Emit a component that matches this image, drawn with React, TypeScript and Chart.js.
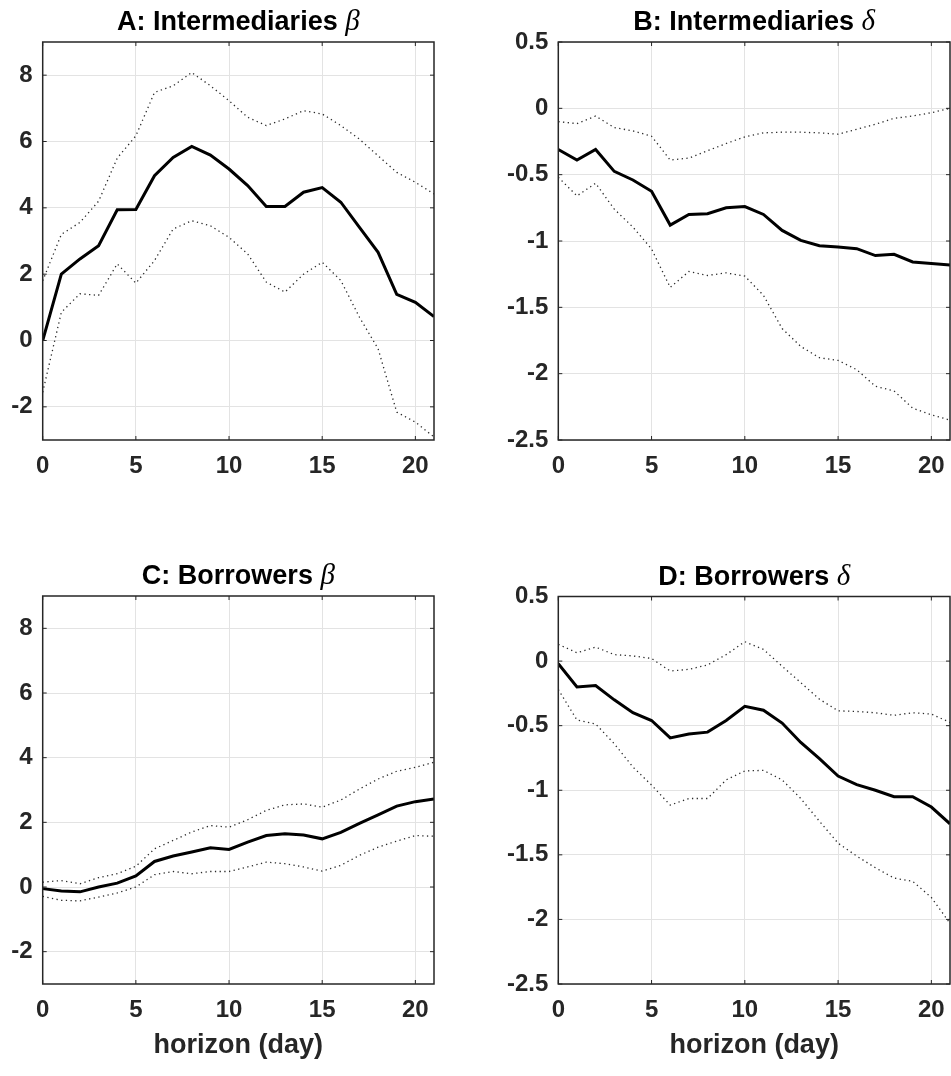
import React, { useEffect, useRef } from 'react';
import { Chart, registerables } from 'chart.js';

Chart.register(...registerables);

// ---------- data ----------
const horizon = [0, 1, 2, 3, 4, 5, 6, 7, 8, 9, 10, 11, 12, 13, 14, 15, 16, 17, 18, 19, 20, 21];
const xTickValues = [0, 5, 10, 15, 20];
const betaTickValues = [-2, 0, 2, 4, 6, 8];
const deltaTickValues = [-2.5, -2, -1.5, -1, -0.5, 0, 0.5];
const xAxisTitle = 'horizon (day)';

const interBetaMean = [0, 2.0, 2.46, 2.86, 3.94, 3.95, 4.97, 5.52, 5.85, 5.59, 5.17, 4.67, 4.04, 4.04, 4.47, 4.61, 4.17, 3.41, 2.66, 1.39, 1.15, 0.72];
const interBetaUpper = [1.8, 3.2, 3.56, 4.2, 5.5, 6.17, 7.48, 7.68, 8.08, 7.68, 7.23, 6.73, 6.48, 6.68, 6.93, 6.83, 6.48, 6.07, 5.57, 5.07, 4.77, 4.42];
const interBetaLower = [-1.56, 0.85, 1.41, 1.36, 2.31, 1.73, 2.41, 3.36, 3.61, 3.46, 3.11, 2.61, 1.76, 1.46, 2.0, 2.36, 1.81, 0.7, -0.25, -2.16, -2.46, -2.91];

const interDeltaMean = [-0.31, -0.39, -0.31, -0.475, -0.54, -0.625, -0.88, -0.8, -0.795, -0.75, -0.74, -0.8, -0.92, -0.995, -1.035, -1.045, -1.058, -1.11, -1.1, -1.158, -1.17, -1.18];
const interDeltaUpper = [-0.1, -0.115, -0.058, -0.145, -0.17, -0.21, -0.39, -0.375, -0.32, -0.265, -0.215, -0.185, -0.18, -0.18, -0.185, -0.195, -0.158, -0.12, -0.075, -0.058, -0.033, 0.0];
const interDeltaLower = [-0.52, -0.66, -0.565, -0.76, -0.895, -1.06, -1.35, -1.23, -1.26, -1.24, -1.265, -1.41, -1.66, -1.795, -1.88, -1.9, -1.97, -2.095, -2.13, -2.26, -2.31, -2.35];

const borrBetaMean = [-0.05, -0.12, -0.15, 0.0, 0.12, 0.34, 0.79, 0.96, 1.08, 1.21, 1.16, 1.39, 1.59, 1.645, 1.61, 1.49, 1.69, 1.97, 2.23, 2.5, 2.64, 2.72];
const borrBetaUpper = [0.15, 0.2, 0.1, 0.29, 0.41, 0.64, 1.18, 1.44, 1.7, 1.9, 1.85, 2.08, 2.37, 2.54, 2.57, 2.47, 2.69, 3.03, 3.34, 3.58, 3.7, 3.86];
const borrBetaLower = [-0.29, -0.41, -0.43, -0.31, -0.185, 0.0, 0.38, 0.48, 0.41, 0.48, 0.48, 0.62, 0.77, 0.72, 0.62, 0.49, 0.67, 0.98, 1.23, 1.42, 1.59, 1.57];

const borrDeltaMean = [-0.02, -0.2, -0.19, -0.3, -0.4, -0.46, -0.595, -0.565, -0.55, -0.46, -0.35, -0.38, -0.48, -0.63, -0.756, -0.89, -0.956, -1.0, -1.05, -1.05, -1.13, -1.26];
const borrDeltaUpper = [0.13, 0.064, 0.108, 0.05, 0.04, 0.02, -0.077, -0.064, -0.03, 0.05, 0.15, 0.09, -0.04, -0.167, -0.295, -0.385, -0.39, -0.4, -0.42, -0.4, -0.41, -0.475];
const borrDeltaLower = [-0.22, -0.456, -0.487, -0.64, -0.82, -0.96, -1.115, -1.064, -1.064, -0.92, -0.85, -0.846, -0.92, -1.064, -1.24, -1.41, -1.51, -1.6, -1.68, -1.705, -1.83, -2.03];

// ---------- panels ----------
type Area = { left: number; top: number; right: number; bottom: number };
type PanelDef = {
  title: string;
  greek: string;
  mean: number[];
  upper: number[];
  lower: number[];
  yMin: number;
  yMax: number;
  yTicks: number[];
  xTitle: boolean;
  box: { left: number; top: number; width: number; height: number };
  area: Area;
};

const panels: PanelDef[] = [
  {
    title: 'A: Intermediaries ', greek: 'β', mean: interBetaMean, upper: interBetaUpper, lower: interBetaLower,
    yMin: -3, yMax: 9, yTicks: betaTickValues, xTitle: false,
    box: { left: 0, top: 0, width: 470, height: 500 }, area: { left: 42.7, top: 42, right: 434, bottom: 440 },
  },
  {
    title: 'B: Intermediaries ', greek: 'δ', mean: interDeltaMean, upper: interDeltaUpper, lower: interDeltaLower,
    yMin: -2.5, yMax: 0.5, yTicks: deltaTickValues, xTitle: false,
    box: { left: 470, top: 0, width: 481, height: 500 }, area: { left: 88.3, top: 42, right: 480, bottom: 440 },
  },
  {
    title: 'C: Borrowers ', greek: 'β', mean: borrBetaMean, upper: borrBetaUpper, lower: borrBetaLower,
    yMin: -3, yMax: 9, yTicks: betaTickValues, xTitle: true,
    box: { left: 0, top: 540, width: 470, height: 536 }, area: { left: 42.7, top: 56, right: 434, bottom: 444 },
  },
  {
    title: 'D: Borrowers ', greek: 'δ', mean: borrDeltaMean, upper: borrDeltaUpper, lower: borrDeltaLower,
    yMin: -2.5, yMax: 0.5, yTicks: deltaTickValues, xTitle: true,
    box: { left: 470, top: 540, width: 481, height: 536 }, area: { left: 88.3, top: 56.5, right: 480, bottom: 444 },
  },
];

const AXIS_COLOR = '#262626';
const GRID_COLOR = '#e3e3e3';
const TICK_FONT = { family: '"Liberation Sans", Arial, sans-serif', size: 24, weight: 'bold' as const };
const LABEL_FONT = { family: '"Liberation Sans", Arial, sans-serif', size: 27, weight: 'bold' as const };

const toPts = (vals: number[]) => vals.map((v, i) => ({ x: horizon[i], y: v }));

function Panel({ p }: { p: PanelDef }) {
  const ref = useRef<HTMLCanvasElement>(null);
  useEffect(() => {
    const boxPlugin = {
      id: 'matlabBox',
      afterDraw(chart: any) {
        const { ctx, chartArea: a, scales } = chart;
        ctx.save();
        ctx.strokeStyle = AXIS_COLOR;
        ctx.lineWidth = 1.5;
        ctx.strokeRect(a.left, a.top, a.right - a.left, a.bottom - a.top);
        ctx.lineWidth = 1;
        const tl = 4;
        ctx.beginPath();
        for (const v of xTickValues) {
          const x = scales.x.getPixelForValue(v);
          ctx.moveTo(x, a.bottom); ctx.lineTo(x, a.bottom - tl);
          ctx.moveTo(x, a.top); ctx.lineTo(x, a.top + tl);
        }
        for (const v of p.yTicks) {
          const y = scales.y.getPixelForValue(v);
          ctx.moveTo(a.left, y); ctx.lineTo(a.left + tl, y);
          ctx.moveTo(a.right, y); ctx.lineTo(a.right - tl, y);
        }
        ctx.stroke();
        ctx.restore();
      },
    };
    const titlePlugin = {
      id: 'panelTitle',
      afterDraw(chart: any) {
        const { ctx, chartArea: a } = chart;
        ctx.save();
        const mainFont = 'bold 27px "Liberation Sans", Arial, sans-serif';
        const greekFont = 'italic 29px "Liberation Serif", "DejaVu Serif", serif';
        ctx.font = mainFont;
        const w1 = ctx.measureText(p.title).width;
        ctx.font = greekFont;
        const w2 = ctx.measureText(p.greek).width;
        const cx = (a.left + a.right) / 2;
        const x0 = cx - (w1 + w2) / 2;
        const y = a.top - 12;
        ctx.fillStyle = '#000';
        ctx.textBaseline = 'alphabetic';
        ctx.textAlign = 'left';
        ctx.font = mainFont;
        ctx.fillText(p.title, x0, y);
        ctx.font = greekFont;
        ctx.fillText(p.greek, x0 + w1, y);
        ctx.restore();
      },
    };
    const dotted = {
      borderColor: '#2a2a2a',
      borderWidth: 1.3,
      borderDash: [1.3, 3.4],
      pointRadius: 0,
      fill: false,
      tension: 0,
    };
    const chart = new Chart(ref.current!, {
      type: 'line',
      data: {
        datasets: [
          { ...dotted, data: toPts(p.upper) },
          { ...dotted, data: toPts(p.lower) },
          { data: toPts(p.mean), borderColor: '#000', borderWidth: 3, pointRadius: 0, fill: false, tension: 0 },
        ],
      },
      options: {
        animation: false,
        responsive: false,
        events: [],
        layout: { padding: { top: p.area.top, right: p.box.width - p.area.right, left: 0, bottom: 0 } },
        plugins: { legend: { display: false }, tooltip: { enabled: false }, title: { display: false } },
        scales: {
          x: {
            type: 'linear',
            min: 0,
            max: 21,
            grid: { color: GRID_COLOR, lineWidth: 1, drawTicks: false },
            border: { display: false },
            ticks: { font: TICK_FONT, color: AXIS_COLOR, padding: 12, maxRotation: 0, callback: (v: any) => String(v) },
            afterBuildTicks: (s: any) => { s.ticks = xTickValues.map((v) => ({ value: v })); },
            afterFit: (s: any) => { s.height = p.box.height - p.area.bottom; s.paddingLeft = 0; s.paddingRight = 0; },
            title: {
              display: p.xTitle,
              text: xAxisTitle,
              font: LABEL_FONT,
              color: AXIS_COLOR,
              padding: { top: 0, bottom: 14 },
            },
          },
          y: {
            type: 'linear',
            min: p.yMin,
            max: p.yMax,
            grid: { color: GRID_COLOR, lineWidth: 1, drawTicks: false },
            border: { display: false },
            ticks: { font: TICK_FONT, color: AXIS_COLOR, padding: 10, callback: (v: any) => String(v) },
            afterBuildTicks: (s: any) => { s.ticks = p.yTicks.map((v) => ({ value: v })); },
            afterFit: (s: any) => { s.width = p.area.left; s.paddingTop = 0; s.paddingBottom = 0; },
          },
        },
      } as any,
      plugins: [boxPlugin, titlePlugin],
    });
    return () => chart.destroy();
  }, [p]);
  return (
    <canvas
      ref={ref}
      width={p.box.width}
      height={p.box.height}
      style={{ position: 'absolute', left: p.box.left, top: p.box.top, width: p.box.width, height: p.box.height }}
    />
  );
}

export default function App() {
  return (
    <div style={{ position: 'fixed', left: 0, top: 0, width: 951, height: 1076, background: '#fff', overflow: 'hidden' }}>
      {panels.map((p, i) => (
        <Panel key={i} p={p} />
      ))}
    </div>
  );
}
